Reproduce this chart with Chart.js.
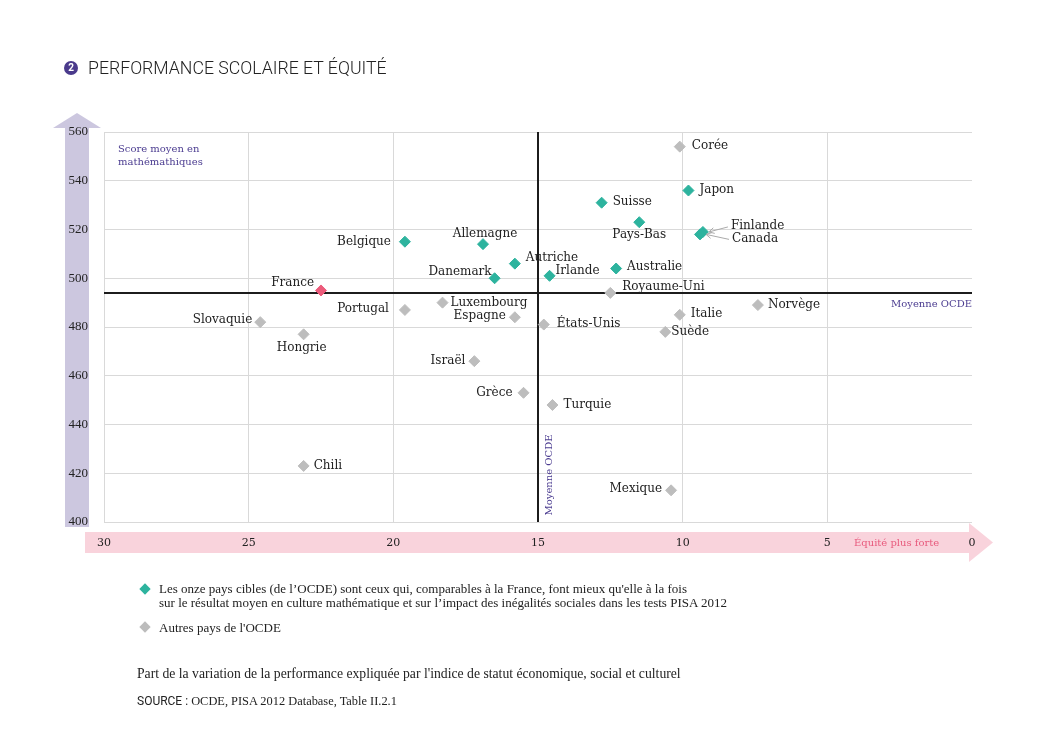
<!DOCTYPE html>
<html>
<head>
  <meta charset="utf-8">
  <title>Performance scolaire et équité</title>
  <style>
    body { margin: 0; background: #fff; }
    #page { position: relative; width: 1044px; height: 750px; overflow: hidden; }
    #canvas { position: absolute; left: 0; top: 0; }
    .txt { position: absolute; white-space: nowrap; color: #222; font-family: "Liberation Serif", serif; font-size: 13px; line-height: 14px; }
    .num { position: absolute; left: 64px; top: 61px; width: 14px; height: 14px; border-radius: 50%;
           background: #4a3a8c; color: #fff; font: bold 10px/14px Roboto, sans-serif; text-align: center; }
    .titre { position: absolute; left: 88px; top: 58px; font: 300 17.7px/20px Roboto, sans-serif; color: #222; white-space: nowrap; }
    .losange { position: absolute; width: 8px; height: 8px; transform: rotate(45deg); }
    .sans { font-family: "Liberation Sans Narrow", Roboto, sans-serif; font-size: 12px; }
  </style>
</head>
<body>
<div id="page">
  <canvas id="canvas" width="1044" height="750"></canvas>
  <div class="num">2</div>
  <div class="titre">PERFORMANCE SCOLAIRE ET ÉQUITÉ</div>

  <div class="losange" style="left:141px; top:585px; background:#2db39e;"></div>
  <div class="txt" style="left:159px; top:582px;">Les onze pays cibles (de l’OCDE) sont ceux qui, comparables à la France, font mieux qu'elle à la fois<br>sur le résultat moyen en culture mathématique et sur l’impact des inégalités sociales dans les tests PISA 2012</div>
  <div class="losange" style="left:141px; top:623px; background:#bcbcbc;"></div>
  <div class="txt" style="left:159px; top:621px;">Autres pays de l'OCDE</div>

  <div class="txt" style="left:137px; top:667px; font-size:13.7px;">Part de la variation de la performance expliquée par l'indice de statut économique, social et culturel</div>
  <div class="txt" style="left:137px; top:694px; font-size:12.4px;"><span class="sans">SOURCE :</span> OCDE, PISA 2012 Database, Table II.2.1</div>
</div>
<script src="https://cdn.jsdelivr.net/npm/chart.js"></script>
<script>
  const canvas = document.getElementById('canvas');
  const ctx = canvas.getContext('2d');

  // Pays cibles (font mieux que la France sur les deux critères)
  const ciblesPays   = ['Japon', 'Suisse', 'Pays-Bas', 'Finlande', 'Canada', 'Belgique', 'Allemagne', 'Autriche', 'Danemark', 'Irlande', 'Australie'];
  const ciblesEquite = [9.8, 12.8, 11.5, 9.3, 9.4, 19.6, 16.9, 15.8, 16.5, 14.6, 12.3];
  const ciblesScore  = [536, 531, 523, 519, 518, 515, 514, 506, 500, 501, 504];

  // Autres pays de l'OCDE
  const autresPays   = ['Corée', 'Royaume-Uni', 'Luxembourg', 'Portugal', 'Espagne', 'États-Unis', 'Italie', 'Norvège', 'Suède', 'Slovaquie', 'Hongrie', 'Israël', 'Grèce', 'Turquie', 'Chili', 'Mexique'];
  const autresEquite = [10.1, 12.5, 18.3, 19.6, 15.8, 14.8, 10.1, 7.4, 10.6, 24.6, 23.1, 17.2, 15.5, 14.5, 23.1, 10.4];
  const autresScore  = [554, 494, 490, 487, 484, 481, 485, 489, 478, 482, 477, 466, 453, 448, 423, 413];

  // France
  const francePays   = ['France'];
  const franceEquite = [22.5];
  const franceScore  = [495];

  // Moyenne OCDE
  const moyenneEquite = 15;
  const moyenneScore  = 494;

  const toPoints = (xs, ys) => xs.map((x, i) => ({ x: x, y: ys[i] }));

  // placement des étiquettes : [dx, dy, alignement]
  const placement = {
    'Corée': [12, -1, 'left'], 'Japon': [11, -1, 'left'], 'Suisse': [11, -1, 'left'],
    'Pays-Bas': [0, 13, 'center'], 'Finlande': [28, -6, 'left'], 'Canada': [32, 4, 'left'],
    'Belgique': [-14, 0, 'right'], 'Allemagne': [2, -10, 'center'], 'Autriche': [11, -6, 'left'],
    'Danemark': [-3, -6, 'right'], 'Irlande': [6, -5, 'left'], 'Australie': [11, -2, 'left'],
    'Royaume-Uni': [12, -6, 'left'], 'France': [-7, -8, 'right'], 'Portugal': [-16, -1, 'right'],
    'Luxembourg': [8, 0, 'left'], 'Espagne': [-9, -1, 'right'], 'États-Unis': [13, -1, 'left'],
    'Italie': [11, -1, 'left'], 'Norvège': [10, 0, 'left'], 'Suède': [6, 0, 'left'],
    'Slovaquie': [-8, -2, 'right'], 'Hongrie': [-2, 14, 'center'], 'Israël': [-9, 0, 'right'],
    'Grèce': [-11, 0, 'right'], 'Turquie': [11, 0, 'left'], 'Chili': [10, 0, 'left'],
    'Mexique': [-9, -1, 'right']
  };
  const fleches = ['Finlande', 'Canada'];

  const serif = '"DejaVu Serif", serif';

  // Flèches de fond des axes + textes
  const decor = {
    id: 'decor',
    beforeDraw(chart) {
      const c = chart.ctx, a = chart.chartArea;
      c.save();
      c.fillStyle = '#ccc7df';
      c.fillRect(a.left - 39, a.top - 4, 24, a.bottom - a.top + 9);
      c.beginPath();
      c.moveTo(a.left - 51, a.top - 4);
      c.lineTo(a.left - 3, a.top - 4);
      c.lineTo(a.left - 27, a.top - 19);
      c.closePath();
      c.fill();
      c.fillStyle = '#f9d3dc';
      c.fillRect(a.left - 19, a.bottom + 10, a.right - a.left + 16, 21);
      c.beginPath();
      c.moveTo(a.right - 3, a.bottom + 1);
      c.lineTo(a.right + 21, a.bottom + 20.5);
      c.lineTo(a.right - 3, a.bottom + 40);
      c.closePath();
      c.fill();
      c.restore();
    },
    afterDatasetsDraw(chart) {
      const c = chart.ctx, a = chart.chartArea;
      const xs = chart.scales.x, ys = chart.scales.y;
      c.save();
      c.font = '10px ' + serif;
      c.fillStyle = '#4b3c90';
      c.textBaseline = 'middle';
      c.textAlign = 'left';
      c.fillText('Score moyen en', a.left + 14, a.top + 17);
      c.fillText('mathémathiques', a.left + 14, a.top + 30);
      c.textAlign = 'right';
      c.fillText('Moyenne OCDE', a.right, ys.getPixelForValue(moyenneScore) + 12);
      c.save();
      c.translate(xs.getPixelForValue(moyenneEquite) + 11, a.bottom - 47);
      c.rotate(-Math.PI / 2);
      c.textAlign = 'center';
      c.fillText('Moyenne OCDE', 0, 0);
      c.restore();
      c.fillStyle = '#e85a7d';
      c.textAlign = 'left';
      c.fillText('Équité plus forte', a.right - 118, a.bottom + 21);

      // étiquettes des pays
      c.font = '12px ' + serif;
      c.fillStyle = '#222';
      [ciblesPays, autresPays, francePays].forEach((noms, d) => {
        chart.getDatasetMeta(d).data.forEach((pt, i) => {
          const nom = noms[i];
          const p = placement[nom] || [10, 0, 'left'];
          c.textAlign = p[2];
          c.fillText(nom, pt.x + p[0], pt.y + p[1]);
          if (fleches.includes(nom)) {
            const x0 = pt.x + p[0] - 3, y0 = pt.y + p[1] + 1;
            const x1 = pt.x + 6, y1 = pt.y;
            c.strokeStyle = '#aaa';
            c.lineWidth = 1;
            c.beginPath();
            c.moveTo(x0, y0);
            c.lineTo(x1, y1);
            c.stroke();
            const ang = Math.atan2(y1 - y0, x1 - x0);
            c.beginPath();
            c.moveTo(x1 - 6 * Math.cos(ang - 0.5), y1 - 6 * Math.sin(ang - 0.5));
            c.lineTo(x1, y1);
            c.lineTo(x1 - 6 * Math.cos(ang + 0.5), y1 - 6 * Math.sin(ang + 0.5));
            c.stroke();
          }
        });
      });
      c.restore();
    }
  };

  const losange = (couleur) => ({
    pointStyle: 'rectRot',
    pointRadius: 5.5,
    pointHoverRadius: 5.5,
    backgroundColor: couleur,
    borderColor: couleur,
    borderWidth: 1,
    order: 1
  });

  const chart = new Chart(ctx, {
    type: 'scatter',
    data: {
      datasets: [
        Object.assign({ label: 'Pays cibles', data: toPoints(ciblesEquite, ciblesScore) }, losange('#2db39e')),
        Object.assign({ label: 'Autres pays', data: toPoints(autresEquite, autresScore) }, losange('#bdbdbd')),
        Object.assign({ label: 'France', data: toPoints(franceEquite, franceScore) }, losange('#ec5b7b')),
        {
          type: 'line', label: 'Moyenne OCDE score',
          data: [{ x: 0, y: moyenneScore }, { x: 30, y: moyenneScore }],
          borderColor: '#1c1c1c', borderWidth: 2, pointRadius: 0, order: 5
        },
        {
          type: 'line', label: 'Moyenne OCDE équité',
          data: [{ x: moyenneEquite, y: 400 }, { x: moyenneEquite, y: 560 }],
          borderColor: '#1c1c1c', borderWidth: 2, pointRadius: 0, order: 5
        }
      ]
    },
    options: {
      responsive: false,
      animation: false,
      layout: { padding: { left: 54, right: 72, top: 132, bottom: 188 } },
      plugins: {
        legend: { display: false },
        tooltip: { enabled: false }
      },
      scales: {
        x: {
          type: 'linear',
          reverse: true,
          min: 0,
          max: 30,
          afterFit: (s) => { s.height = 40; },
          border: { display: false },
          grid: {
            color: (c) => c.tick && c.tick.value === 0 ? 'rgba(0,0,0,0)' : '#d9d9d9',
            drawTicks: false
          },
          ticks: { stepSize: 5, padding: 15, color: '#222', font: { family: serif, size: 11 } }
        },
        y: {
          min: 400,
          max: 560,
          afterFit: (s) => { s.width = 50; },
          border: { display: false },
          grid: { color: '#d9d9d9', drawTicks: false },
          ticks: { stepSize: 20, padding: 16, color: '#222', font: { family: '"Liberation Serif", serif', size: 13 } }
        }
      }
    },
    plugins: [decor]
  });
</script>
</body>
</html>
